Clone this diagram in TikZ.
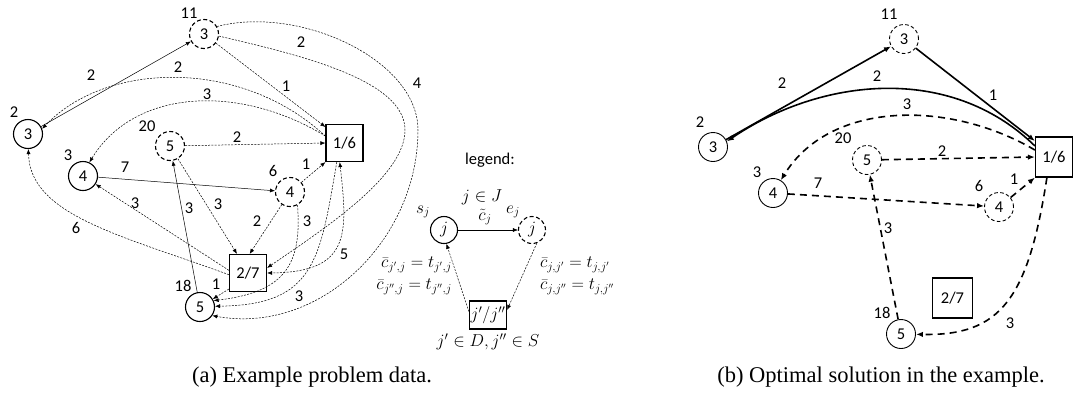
\documentclass[tikz,border=0pt]{standalone}
\usepackage{fontspec}
\setmainfont{Carlito}
\newfontfamily\capfont{Liberation Serif}
\usetikzlibrary{arrows.meta}
\begin{document}
\begin{tikzpicture}[x=1pt,y=-1pt,
  lab/.style={font=\fontsize{16.5}{19}\selectfont, inner sep=0pt},
  sn/.style={circle, draw, line width=1.1pt, minimum size=29pt, inner sep=0pt, font=\fontsize{16.5}{19}\selectfont},
  en/.style={sn, dash pattern=on 4pt off 2.5pt},
  snb/.style={sn, line width=0.9pt},
  enb/.style={sn, line width=0.9pt, dash pattern=on 3.5pt off 2.5pt},
  bx/.style={draw, line width=1.2pt, minimum width=37pt, minimum height=37pt, inner sep=0pt, font=\fontsize{16.5}{19}\selectfont},
  ea/.style={-{Latex[length=5pt,width=4pt]}, line width=0.5pt},
  eda/.style={ea, dash pattern=on 2pt off 1.3pt},
  edab/.style={{Latex[length=5pt,width=4pt]}-{Latex[length=5pt,width=4pt]}, line width=0.5pt, dash pattern=on 2pt off 1.3pt},
  eb/.style={-{Latex[length=7pt,width=5.5pt]}, line width=1.6pt},
  edb/.style={eb, dash pattern=on 7pt off 5pt},
  captext/.style={font=\capfont\fontsize{22.5}{27}\selectfont, inner sep=0pt}
]
\useasboundingbox (0,0) rectangle (1073,394);

% ---------------- (a) ----------------
\node[sn] (A) at (28,134) {3};
\node[en] (B) at (204,34) {3};
\node[sn] (C) at (83,176) {4};
\node[en] (D) at (170,146) {5};
\node[en] (E) at (290,192) {4};
\node[sn] (F) at (200,307) {5};
\node[bx] (P1) at (344.5,143) {1/6};
\node[bx] (P2) at (248,273) {2/7};

\node[lab] (tA) at (14,112) {2};
\node[lab] (tB) at (189,13) {11};
\node[lab] (tC) at (68,155) {3};
\node[lab] (tD) at (147,126) {20};
\node[lab] (tE) at (273,171) {6};
\node[lab] (tF) at (183,286) {18};

\draw[ea] (A) -- (B);
\draw[eda] (P1.160) .. controls (240,57) and (105,62) .. (A.20);
\draw[eda] (P1.160) .. controls (240,84) and (135,88) .. (C.65);
\draw[eda] (B) -- (P1.140);
\draw[eda] (B.-8) .. controls (300,55) and (405,80) .. (405,130) .. controls (405,175) and (330,225) .. (P2.15);
\draw[eda] (B.30) .. controls (300,5) and (418,60) .. (418,130) .. controls (418,240) and (320,335) .. (F.-35);
\draw[eda] (D) -- (P1.west);
\draw[ea] (C) -- (E);
\draw[eda] (E) -- (P1.south west);
\draw[eda] (E) -- (P2.85);
\draw[eda] (E.-60) .. controls (302,265) and (285,292) .. (F.25);
\draw[eda] (P1.-112) .. controls (320,260) and (315,305) .. (F.3);
\draw[edab] (P1.-104) .. controls (348,235) and (350,272) .. (P2.east);
\draw[eda] (P2.172) -- (C);
\draw[eda] (P2.185) .. controls (120,235) and (30,215) .. (A);
\draw[eda] (P2.-140) -- (F);
\draw[eda] (D) -- (P2.120);
\draw[ea] (F) -- (D);

\node[lab] (a1) at (91,75) {2};
\node[lab] (a2) at (178,67) {2};
\node[lab] (a3) at (207,94) {3};
\node[lab] (a4) at (286,86) {1};
\node[lab] (a5) at (301,42) {2};
\node[lab] (a6) at (417,83) {4};
\node[lab] (a7) at (237,137) {2};
\node[lab] (a8) at (125,167) {7};
\node[lab] (a9) at (306,164) {1};
\node[lab] (a10) at (257,221) {2};
\node[lab] (a11) at (307,221) {3};
\node[lab] (a12) at (299,296) {3};
\node[lab] (a13) at (344,254) {5};
\node[lab] (a14) at (135,203) {3};
\node[lab] (a15) at (76,228) {6};
\node[lab] (a16) at (216,284) {1};
\node[lab] (a17) at (218,204) {3};
\node[lab] (a18) at (189,208) {3};

% legend
\node[lab] (lg) at (490,160) {legend:};
\node[lab] (lJ) at (482,197) {$j\in J$};
\node[sn, minimum size=27pt] (LS) at (444,230) {$j$};
\node[en, minimum size=27pt] (LE) at (532,230) {$j$};
\node[draw, line width=1.2pt, minimum width=37pt, minimum height=28pt, inner sep=0pt, font=\fontsize{16.5}{19}\selectfont] (LB) at (488,315) {$j'/j''$};
\node[lab] (ls) at (423,212) {$s_j$};
\node[lab] (le) at (513,212) {$e_j$};
\node[lab] (lc) at (485,217) {$\tilde{c}_j$};
\draw[ea] (LS) -- (LE);
\draw[eda] (LE.-70) -- (LB.15);
\draw[eda] (LB.170) -- (LS.-80);
\node[lab, anchor=east] (ll1) at (452,265) {$\bar{c}_{j',j}=t_{j',j}$};
\node[lab, anchor=east] (ll2) at (452,287) {$\bar{c}_{j'',j}=t_{j'',j}$};
\node[lab, anchor=west] (lr1) at (540,265) {$\bar{c}_{j,j'}=t_{j,j'}$};
\node[lab, anchor=west] (lr2) at (540,287) {$\bar{c}_{j,j''}=t_{j,j''}$};
\node[lab] (lb) at (488,342) {$j'\in D, j''\in S$};

\node[captext] (capa) at (312,377) {(a) Example problem data.};

% ---------------- (b) ----------------
\node[snb] (Ab) at (713,147) {3};
\node[enb] (Bb) at (904,39) {3};
\node[snb] (Cb) at (773,193) {4};
\node[enb] (Db) at (867,160) {5};
\node[enb] (Eb) at (999,207) {4};
\node[snb] (Fb) at (901,334) {5};
\node[bx, minimum height=40pt] (Q1) at (1054,157) {1/6};
\node[bx, minimum width=40pt, minimum height=40pt] (Q2) at (952.5,298) {2/7};

\node[lab] (tAb) at (700,122) {2};
\node[lab] (tBb) at (889,14) {11};
\node[lab] (tCb) at (757,172) {3};
\node[lab] (tDb) at (843,138) {20};
\node[lab] (tEb) at (979,186) {6};
\node[lab] (tFb) at (882,313) {18};

\draw[eb] (Ab) -- (Bb);
\draw[eb] (Bb) -- (Q1.140);
\draw[eb] (Q1.150) .. controls (950,63) and (820,78) .. (Ab.22);
\draw[edb] (Q1.160) .. controls (950,100) and (830,100) .. (Cb);
\draw[edb] (Db) -- (Q1.west);
\draw[edb] (Cb) -- (Eb);
\draw[edb] (Eb) -- (Q1.south west);
\draw[edb] (Fb) -- (Db);
\draw[edb] (Q1.-109) .. controls (1028,300) and (1000,336) .. (Fb);

\node[lab] (b1) at (782,83) {2};
\node[lab] (b2) at (993,95) {1};
\node[lab] (b3) at (877,76) {2};
\node[lab] (b4) at (907,104) {3};
\node[lab] (b5) at (942,151) {2};
\node[lab] (b6) at (818,183) {7};
\node[lab] (b7) at (1014,179) {1};
\node[lab] (b8) at (888,228) {3};
\node[lab] (b9) at (1010,323) {3};

\node[captext] (capb) at (881,377) {(b) Optimal solution in the example.};
\end{tikzpicture}
\end{document}
